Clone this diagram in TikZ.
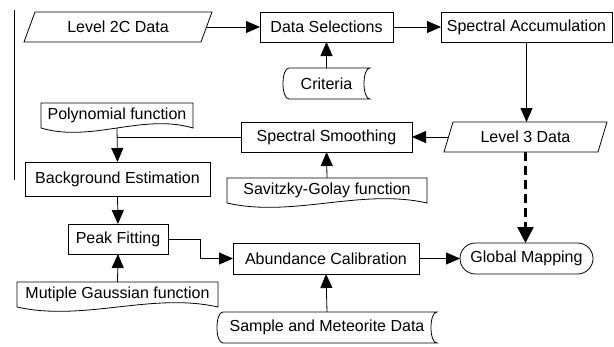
\documentclass[tikz,border=0pt]{standalone}
\usepackage{fontspec}
\setmainfont{Liberation Sans}
\usetikzlibrary{arrows.meta,calc}
\tikzset{
  every node/.style={font=\fontsize{16}{18}\selectfont, inner sep=0pt, outer sep=0pt},
  box/.style={draw, rectangle, line width=0.8pt},
  shapeonly/.style={rectangle},
  outline/.style={line width=0.8pt},
  conn/.style={line width=0.8pt, -{Triangle[length=14pt,width=12pt]}},
  dconn/.style={line width=2.6pt, dash pattern=on 9pt off 5pt, -{Triangle[length=16pt,width=16pt]}},
  term/.style={draw, rectangle, rounded corners=15.5pt, line width=0.8pt},
}
\begin{document}
\begin{tikzpicture}[x=1pt,y=-1pt]
\useasboundingbox (0,0) rectangle (614,346);
% left margin rule
\draw[line width=0.8pt] (14,10) -- (14,180);

% nodes
\node[shapeonly, minimum width=188pt, minimum height=30pt] (l2) at (118,27) {Level 2C Data};
\node[box, minimum width=133pt, minimum height=30pt] (ds) at (326.5,27) {Data Selections};
\node[box, minimum width=171pt, minimum height=30pt] (sa) at (526.5,27) {Spectral Accumulation};
\node[shapeonly, minimum width=87pt, minimum height=31pt] (cr) at (326.5,83.5) {Criteria};
\node[shapeonly, minimum width=152pt, minimum height=25pt] (po) at (117,115.5) {Polynomial function};
\node[box, minimum width=171pt, minimum height=30pt] (ss) at (326.5,137) {Spectral Smoothing};
\node[shapeonly, minimum width=163pt, minimum height=30pt] (l3) at (525.5,137) {Level 3 Data};
\node[box, minimum width=185pt, minimum height=34pt] (be) at (117.5,179) {Background Estimation};
\node[shapeonly, minimum width=200pt, minimum height=25pt] (sg) at (327,190.5) {Savitzky-Golay function};
\node[box, minimum width=100pt, minimum height=30pt] (pk) at (118,239) {Peak Fitting};
\node[box, minimum width=186pt, minimum height=31pt] (ac) at (326,258.5) {Abundance Calibration};
\node[term, minimum width=133pt, minimum height=31pt] (gm) at (526.5,258.5) {Global Mapping};
\node[shapeonly, minimum width=201pt, minimum height=25pt] (mg) at (117.5,294.5) {Mutiple Gaussian function};
\node[shapeonly, minimum width=220pt, minimum height=31pt] (sm) at (327,327.5) {Sample and Meteorite Data};

% parallelograms
\draw[outline] ([xshift=11pt]l2.north west) -- (l2.north east) -- ([xshift=-11pt]l2.south east) -- (l2.south west) -- cycle;
\draw[outline] ([xshift=9pt]l3.north west) -- (l3.north east) -- ([xshift=-9pt]l3.south east) -- (l3.south west) -- cycle;

% documents
\foreach \n in {po,sg,mg}{
  \draw[outline] (\n.south west) -- (\n.north west) -- (\n.north east) -- (\n.south east)
    .. controls ($(\n.south east)!0.33!(\n.south west)+(0,-15)$) and ($(\n.south east)!0.67!(\n.south west)+(0,15)$) .. (\n.south west);
}

% stored data
\foreach \n in {cr,sm}{
  \draw[outline] ([xshift=6pt]\n.north west) -- (\n.north east)
    .. controls ([xshift=-8pt]\n.north east) and ([xshift=-8pt]\n.south east) .. (\n.south east)
    -- ([xshift=6pt]\n.south west)
    .. controls ([xshift=-2pt]\n.south west) and ([xshift=-2pt]\n.north west) .. cycle;
}

% connectors
\draw[conn] ([xshift=-5.5pt]l2.east) -- (ds.west);
\draw[conn] (ds.east) -- (sa.west);
\draw[conn] (cr.north) -- (ds.south);
\draw[conn] (sa.south) -- (sa.south |- l3.north);
\draw[conn] ([xshift=4.5pt]l3.west) -- (ss.east);
\draw[line width=0.8pt] (ss.west) -- (ss.west -| po.south);
\draw[conn] (po.south) -- (be.north);
\draw[conn] (sg.north) -- (ss.south);
\draw[conn] (be.south) -- (pk.north);
\draw[conn] (mg.north) -- (pk.south);
\draw[conn] (pk.east) -- ++(32,0) |- (ac.west);
\draw[conn] (sm.north) -- (ac.south);
\draw[conn] (ac.east) -- (gm.west);
\draw[dconn] (l3.south) -- (l3.south |- gm.north);
\end{tikzpicture}
\end{document}
